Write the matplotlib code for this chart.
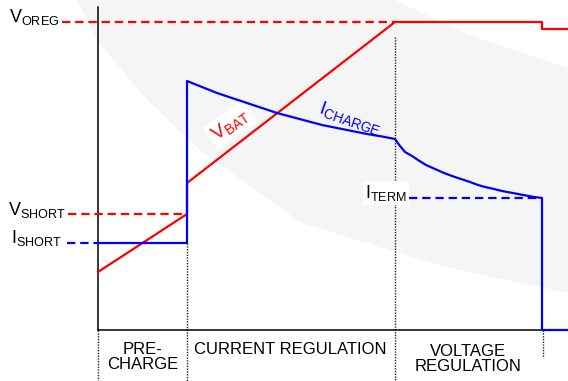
import numpy as np
import matplotlib
matplotlib.use("Agg")
import matplotlib.pyplot as plt
from matplotlib.patches import Polygon

plt.rcParams['font.family'] = ['Liberation Sans', 'DejaVu Sans']
plt.rcParams['mathtext.fontset'] = 'custom'
plt.rcParams['mathtext.rm'] = 'Liberation Sans'
plt.rcParams['mathtext.it'] = 'Liberation Sans:italic'
plt.rcParams['lines.scale_dashes'] = False

RED = "#ff0000"
BLUE = "#0000ff"

# phase boundaries (time, arbitrary units)
t_pre = 89      # end of pre-charge
t_cv = 297      # end of current regulation
t_term = 444    # termination
t_end = 470

# levels (arbitrary units)
v_oreg = 308
v_after_term = 301
v_short = 116
i_short = 87
i_term = 132

# battery voltage
vbat_t = [0, t_pre, t_pre, t_cv, t_term, t_term, t_end]
vbat_v = [58, v_short, 147, v_oreg, v_oreg, v_after_term, v_after_term]

# charge current: pre-charge, current regulation, voltage regulation, off
ichg_t = [0, t_pre, t_pre, 104, 119, 134, 149, 164, 179, 194, 209, 224,
          239, 254, 269, 284, t_cv,
          302, 307, 314, 320, 328, 337, 346, 354, 363, 372, 380, 387,
          396, 404, 412, 420, 428, 436, t_term, t_term, t_end]
ichg_v = [i_short, i_short, 249, 243, 237, 232, 227, 222, 217, 213, 209, 205,
          202, 199, 196, 193.5, 191,
          184, 178, 174, 170, 165, 161, 157, 154, 151, 148, 145, 143,
          141, 139, 137.5, 136, 134.5, 133, i_term, 0, 0]

# faint watermark swoosh in the background
wm_lower_t = [-21, -1, 49, 102, 202, 252, 352, 470]
wm_lower_v = [330, 290, 230, 180, 108, 92, 62, 37]
wm_upper_t = [470, 369, 297]
wm_upper_v = [262, 296, 330]

fig = plt.figure(figsize=(5.68, 3.81), dpi=100)
ax = fig.add_axes([0, 0, 1, 1])
ax.set_xlim(-98, 470)
ax.set_ylim(-51, 330)
ax.axis("off")

wm = Polygon(list(zip(wm_lower_t + wm_upper_t, wm_lower_v + wm_upper_v)),
             closed=True, facecolor="#f5f5f5", edgecolor="none", zorder=0)
ax.add_patch(wm)

# axes
ax.plot([0, 0], [0, 323], color="black", lw=1.1, zorder=2)
ax.plot([0, t_term], [0, 0], color="black", lw=1.1, zorder=2)

# dotted phase separators
dot = dict(color="#222222", lw=1.0, linestyle=(0, (1, 1)), zorder=1)
ax.plot([0, 0], [0, -51], **dot)
ax.plot([t_pre, t_pre], [i_short, -51], **dot)
ax.plot([t_cv, t_cv], [293, -51], **dot)
ax.plot([t_term + 1, t_term + 1], [0, -28], **dot)

# dashed reference levels
dash = (0, (6, 3.5))
ax.plot([-36, t_cv], [v_oreg, v_oreg], color=RED, lw=1.6, linestyle=dash, zorder=3)
ax.plot([-30, t_pre], [v_short, v_short], color=RED, lw=1.6, linestyle=dash, zorder=3)
ax.plot([-31, 0], [i_short, i_short], color=BLUE, lw=1.6, linestyle=dash, zorder=3)
ax.plot([311, t_term], [i_term, i_term], color=BLUE, lw=1.6, linestyle=dash, zorder=3)

ax.plot(vbat_t, vbat_v, color=RED, lw=1.6, zorder=4)
ax.plot(ichg_t, ichg_v, color=BLUE, lw=1.6, zorder=4)

# level labels
ax.text(-39, v_oreg, r"$\mathrm{V}_{\mathrm{OREG}}$", fontsize=13,
        ha="right", va="baseline")
ax.text(-32, 115, r"$\mathrm{V}_{\mathrm{SHORT}}$", fontsize=13,
        ha="right", va="baseline")
ax.text(-36, i_short, r"$\mathrm{I}_{\mathrm{SHORT}}$", fontsize=13,
        ha="right", va="baseline")
ax.text(309, i_term, r"$\mathrm{I}_{\mathrm{TERM}}$", fontsize=13,
        ha="right", va="baseline", zorder=5,
        bbox=dict(facecolor="white", edgecolor="none", pad=1.5))

# curve labels
ax.text(132, 205, r"$\mathrm{V}_{\mathrm{BAT}}$", fontsize=14, color=RED,
        ha="center", va="center", rotation=35, rotation_mode="anchor", zorder=1.5,
        bbox=dict(facecolor="white", edgecolor="none", pad=2.5))
ax.text(252, 212, r"$\mathrm{I}_{\mathrm{CHARGE}}$", fontsize=14, color=BLUE,
        ha="center", va="center", rotation=-19, rotation_mode="anchor", zorder=5)

# phase names
ax.text(45, -27, "PRE-\nCHARGE", fontsize=12, ha="center", va="center",
        linespacing=1.0)
ax.text(192, -19, "CURRENT REGULATION", fontsize=12, ha="center", va="center")
ax.text(370, -29, "VOLTAGE\nREGULATION", fontsize=12, ha="center", va="center",
        linespacing=1.0)

fig.savefig("out.png", dpi=100, facecolor="white")
